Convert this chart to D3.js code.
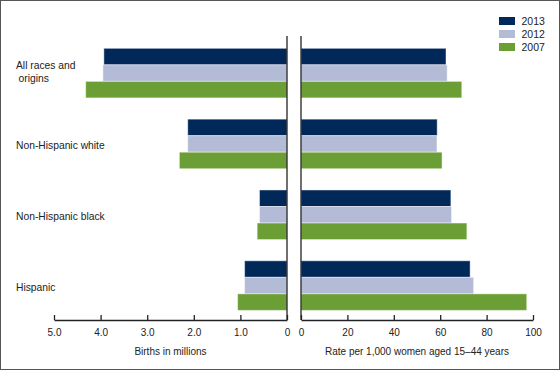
<!DOCTYPE html>
<html>
<head>
<meta charset="utf-8">
<script src="https://cdn.jsdelivr.net/npm/d3@7"></script>
<style>
  body { margin: 0; background: #fff; }
  svg { display: block; font-family: "Liberation Sans", Arial, sans-serif; }
  .axis text { font-size: 10px; fill: #222; }
  .axis path, .axis line { stroke: #222; stroke-width: 1.3; }
</style>
</head>
<body>
<svg width="560" height="370"></svg>
<script>
// Data
const categories = ["All races and origins", "Non-Hispanic white", "Non-Hispanic black", "Hispanic"];
const categoryLines = [["All races and", "origins"], ["Non-Hispanic white"], ["Non-Hispanic black"], ["Hispanic"]];
const years = ["2013", "2012", "2007"];
const births2013 = [3.93, 2.13, 0.59, 0.91];
const births2012 = [3.95, 2.13, 0.59, 0.91];
const births2007 = [4.32, 2.31, 0.64, 1.06];
const rate2013 = [62.5, 58.7, 64.6, 72.9];
const rate2012 = [63.0, 58.6, 64.9, 74.4];
const rate2007 = [69.3, 60.8, 71.5, 97.3];
const birthTicks = [5, 4, 3, 2, 1, 0];
const rateTicks = [0, 20, 40, 60, 80, 100];

const colors = { "2013": "#00295a", "2012": "#b3bbd6", "2007": "#6b9e34" };

const births = { "2013": births2013, "2012": births2012, "2007": births2007 };
const rates = { "2013": rate2013, "2012": rate2012, "2007": rate2007 };

const svg = d3.select("svg");
const axisY = 320, topY = 36;

// Cadre
svg.append("rect")
    .attr("x", 0.5).attr("y", 0.5)
    .attr("width", 559).attr("height", 369)
    .attr("fill", "none").attr("stroke", "#555");

// Echelles
const xL = d3.scaleLinear().domain([5, 0]).range([54, 287]);
const xR = d3.scaleLinear().domain([0, 100]).range([301, 533]);

const y = d3.scaleBand()
    .domain(categories)
    .range([37.7, 321])
    .paddingInner(0.3)
    .paddingOuter(0.15);

const ySub = d3.scaleBand()
    .domain(years)
    .range([0, y.bandwidth()]);

// Tableau à plat
const rows = [];
categories.forEach((c, i) => {
    years.forEach(yr => {
        rows.push({ cat: c, year: yr, births: births[yr][i], rate: rates[yr][i] });
    });
});

// Barres gauche
svg.append("g").selectAll("rect")
    .data(rows)
    .join("rect")
    .attr("x", d => xL(d.births))
    .attr("y", d => y(d.cat) + ySub(d.year))
    .attr("width", d => xL(0) - xL(d.births))
    .attr("height", ySub.bandwidth())
    .attr("fill", d => colors[d.year])
    .attr("stroke", "rgba(255,255,255,0.45)")
    .attr("stroke-width", 1);

// Barres droite
svg.append("g").selectAll("rect")
    .data(rows)
    .join("rect")
    .attr("x", xR(0))
    .attr("y", d => y(d.cat) + ySub(d.year))
    .attr("width", d => xR(d.rate) - xR(0))
    .attr("height", ySub.bandwidth())
    .attr("fill", d => colors[d.year])
    .attr("stroke", "rgba(255,255,255,0.45)")
    .attr("stroke-width", 1);

// Lignes verticales
[xL(0), xR(0)].forEach(x => {
    svg.append("line")
        .attr("x1", x).attr("x2", x)
        .attr("y1", topY).attr("y2", axisY)
        .attr("stroke", "#222").attr("stroke-width", 1.3);
});

// Axes
svg.append("g")
    .attr("class", "axis")
    .attr("transform", `translate(0,${axisY})`)
    .call(d3.axisBottom(xL).tickValues(birthTicks)
        .tickFormat(d => d === 0 ? "0" : d3.format(".1f")(d))
        .tickSizeInner(-5).tickSizeOuter(0).tickPadding(8.5));

svg.append("g")
    .attr("class", "axis")
    .attr("transform", `translate(0,${axisY})`)
    .call(d3.axisBottom(xR).tickValues(rateTicks)
        .tickSizeInner(-5).tickSizeOuter(0).tickPadding(8.5));

// Titres des axes
svg.append("text")
    .attr("x", (xL.range()[0] + xL.range()[1]) / 2)
    .attr("y", 354.5)
    .attr("text-anchor", "middle")
    .attr("font-size", 10).attr("fill", "#222")
    .text("Births in millions");

svg.append("text")
    .attr("x", (xR.range()[0] + xR.range()[1]) / 2)
    .attr("y", 354.5)
    .attr("text-anchor", "middle")
    .attr("font-size", 10).attr("fill", "#222")
    .text("Rate per 1,000 women aged 15–44 years");

// Libellés des catégories
categories.forEach((c, i) => {
    const lines = categoryLines[i];
    const mid = y(c) + y.bandwidth() / 2;
    const lh = 12.6;
    const cy = lines.length > 1 ? mid - 1.3 : mid + 1.7;
    lines.forEach((l, j) => {
        svg.append("text")
            .attr("x", j === 0 ? 16 : 18.5)
            .attr("y", cy - (lines.length - 1) * lh / 2 + j * lh)
            .attr("dy", "0.35em")
            .attr("font-size", 10.3).attr("fill", "#222")
            .text(l);
    });
});

// Légende
const legend = svg.append("g").attr("transform", "translate(499,17)");
years.forEach((yr, i) => {
    legend.append("rect")
        .attr("x", 0).attr("y", i * 13)
        .attr("width", 16).attr("height", 8)
        .attr("fill", colors[yr]);
    legend.append("text")
        .attr("x", 22.5).attr("y", i * 13 + 4.5)
        .attr("dy", "0.35em")
        .attr("font-size", 10.5).attr("fill", "#222")
        .text(yr);
});
</script>
</body>
</html>
